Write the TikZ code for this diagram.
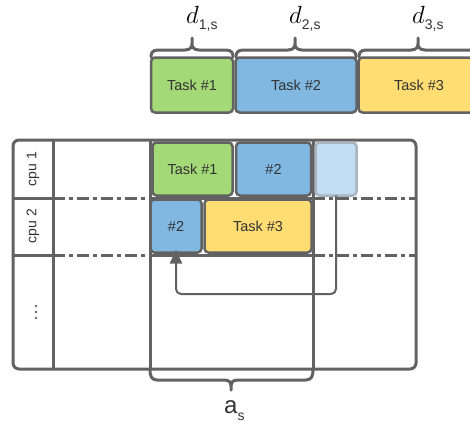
\documentclass[tikz,border=0pt]{standalone}
\usepackage{fontspec}
\setmainfont{Liberation Sans}
\usetikzlibrary{arrows.meta}

\definecolor{linegray}{HTML}{626262}
\definecolor{textgray}{HTML}{333333}
\definecolor{taskgreen}{HTML}{A3D977}
\definecolor{taskblue}{HTML}{80B8E2}
\definecolor{taskyellow}{HTML}{FFDD73}
\definecolor{ghostblue}{HTML}{C2DDF1}
\definecolor{ghostedge}{HTML}{A9B4BE}

% curly brace opening upwards: left x, right x, tip x, end y, bar y, tip y
\newcommand{\bracepath}[6]{%
  \draw[bracestyle] (#1,#4) .. controls (#1,{(#4+#5)/2}) and (#1+1,#5) .. (#1+7,#5)
    -- (#3-7,#5) .. controls (#3-1,#5) and (#3,{#5+0.3*(#6-#5)}) .. (#3,{#5+0.55*(#6-#5)})
    -- (#3,#6) -- (#3,{#5+0.55*(#6-#5)})
    .. controls (#3,{#5+0.3*(#6-#5)}) and (#3+1,#5) .. (#3+7,#5)
    -- (#2-7,#5) .. controls (#2-1,#5) and (#2,{(#4+#5)/2}) .. (#2,#4);}

\begin{document}
\begin{tikzpicture}[x=1pt,y=-1pt,
  gridline/.style={draw=linegray,line width=3pt},
  dashline/.style={draw=linegray,line width=3pt,dash pattern=on 12pt off 4pt on 4pt off 4pt},
  bracestyle/.style={draw=linegray,line width=3pt,line cap=round,line join=round},
  task/.style={draw=linegray,line width=2.5pt,rounded corners=4pt,text=textgray,
    font=\fontsize{14.5}{15}\selectfont,inner sep=0pt,outer sep=0pt},
  rowlabel/.style={text=textgray,font=\fontsize{14}{15}\selectfont,rotate=90,inner sep=0pt},
  flow/.style={draw=linegray,line width=2pt,rounded corners=5pt,
    -{Triangle[width=12pt,length=14pt]}},
]
\useasboundingbox (0,0) rectangle (470,423);
\clip (0,0) rectangle (470,423);

% ---- task durations on top ----
\node[task,fill=taskgreen,minimum width=82pt,minimum height=55pt] (t1) at (192,85) {Task \#1};
\node[task,fill=taskblue,minimum width=121pt,minimum height=55pt] (t2) at (296,85) {Task \#2};
\node[task,fill=taskyellow,minimum width=121pt,minimum height=55pt] (t3) at (419,85) {Task \#3};

\bracepath{151}{233}{192}{57}{50}{38}
\bracepath{236}{356}{295}{57}{50}{38}
\bracepath{359}{478}{418}{57}{50}{38}

\node[anchor=base west,inner sep=0pt] (d1) at (186,23)
  {\fontsize{25}{25}\selectfont$d$\raisebox{-6pt}{\fontsize{14}{14}\selectfont\color{textgray}1,s}};
\node[anchor=base west,inner sep=0pt] (d2) at (289,23)
  {\fontsize{25}{25}\selectfont$d$\raisebox{-6pt}{\fontsize{14}{14}\selectfont\color{textgray}2,s}};
\node[anchor=base west,inner sep=0pt] (d3) at (412,23)
  {\fontsize{25}{25}\selectfont$d$\raisebox{-6pt}{\fontsize{14}{14}\selectfont\color{textgray}3,s}};

% ---- schedule grid ----
\draw[gridline] (53,140) -- (53,369);
\draw[gridline] (150,140) -- (150,369);
\draw[gridline] (313,140) -- (313,369);
\draw[gridline] (13,198) -- (53,198);
\draw[gridline] (13,255) -- (53,255);
\draw[gridline] (150,198) -- (313,198);
\draw[gridline] (150,255) -- (313,255);
\draw[dashline] (53,198) -- (150,198);
\draw[dashline] (53,255) -- (150,255);
\draw[dashline] (313,198) -- (416,198);
\draw[dashline] (313,255) -- (416,255);
\draw[gridline,rounded corners=6pt] (13,140) rectangle (416,369);

\node[rowlabel] (cpu1) at (33,169) {cpu 1};
\node[rowlabel] (cpu2) at (33,226) {cpu 2};
\node[inner sep=0pt] (more) at (36,312) {%
  \tikz[x=1pt,y=1pt]{\foreach \k in {0,6,12} \fill[linegray] (0,\k) circle (1.3pt);}};

% ---- tasks placed on the processors ----
\node[task,fill=taskgreen,minimum width=80pt,minimum height=53pt] (g1) at (192.5,169) {Task \#1};
\node[task,fill=taskblue,minimum width=75pt,minimum height=53pt] (g2) at (273.5,169) {\#2};
\node[task,draw=ghostedge,fill=ghostblue,minimum width=41pt,minimum height=53pt] (ghost) at (336,169) {};
\node[task,fill=taskblue,minimum width=51pt,minimum height=53pt] (h2) at (176,226) {\#2};
\node[task,fill=taskyellow,minimum width=107pt,minimum height=53pt] (h3) at (258,226) {Task \#3};

% migration of task 2 onto cpu 2
\draw[flow] (ghost.south) -- (ghost.south |- 0,294) -- (h2.south |- 0,294) -- ([yshift=3pt]h2.south);

% ---- allocation window ----
\bracepath{150}{313}{231}{370}{380}{390}
\node[anchor=base west,inner sep=0pt,text=textgray] (as) at (224,413)
  {\fontsize{24}{24}\selectfont a\raisebox{-7pt}{\fontsize{14}{14}\selectfont s}};
\end{tikzpicture}
\end{document}
